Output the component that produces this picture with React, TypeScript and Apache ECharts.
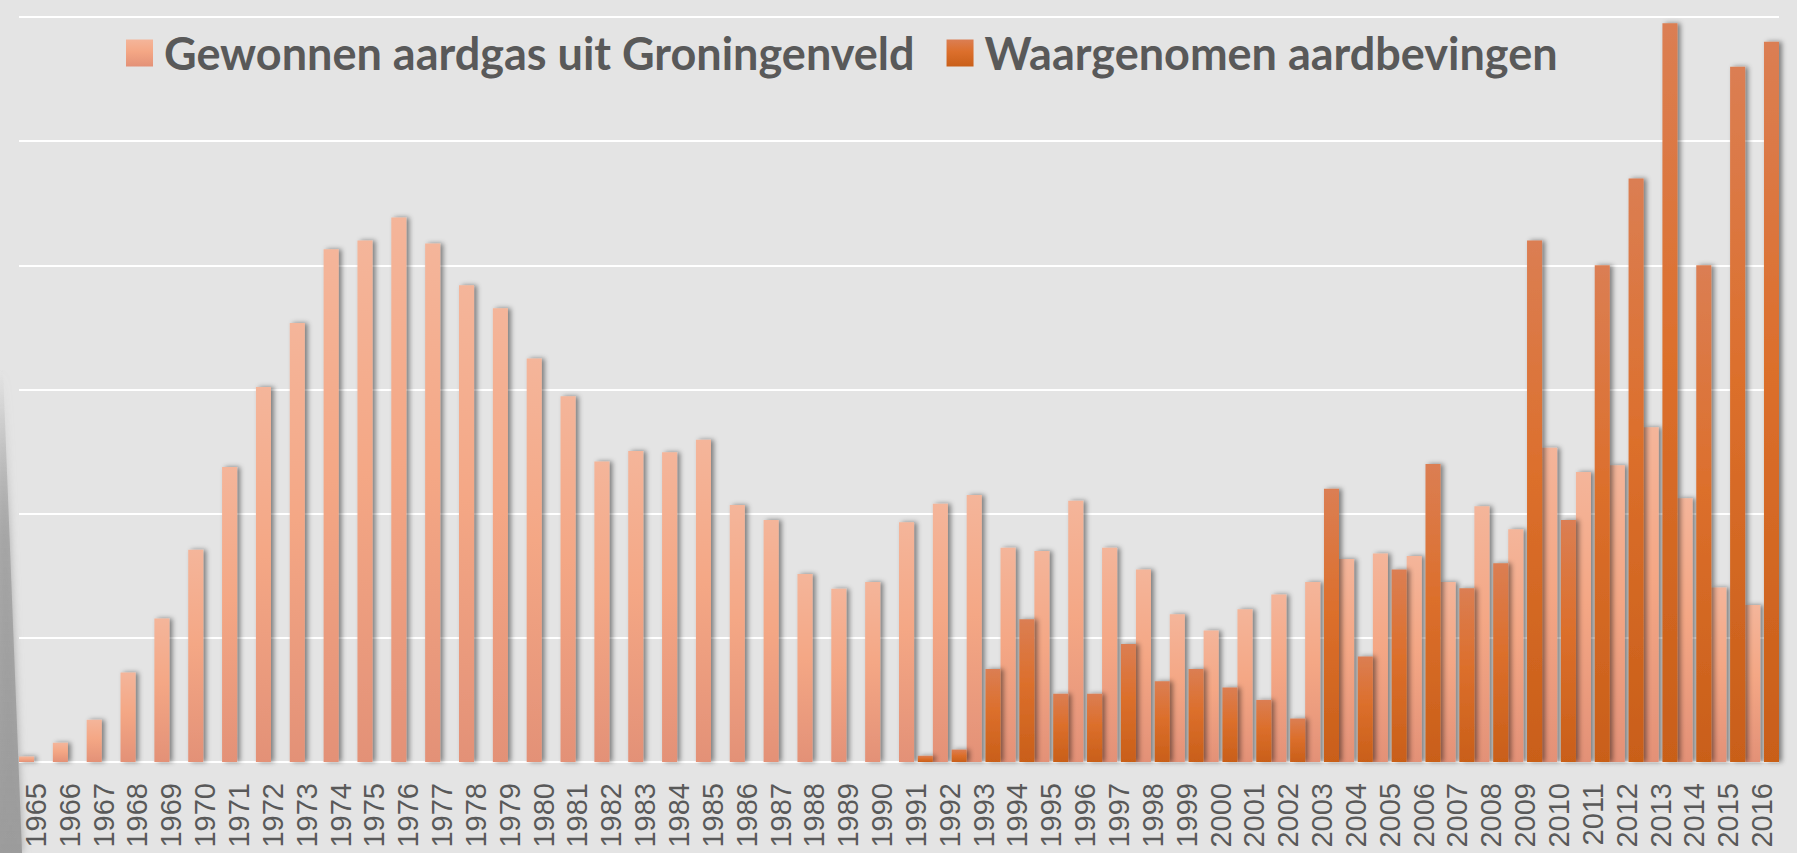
import React, { useEffect, useRef } from 'react';
import * as echarts from 'echarts';

const years = [
  '1965', '1966', '1967', '1968', '1969', '1970', '1971', '1972', '1973', '1974',
  '1975', '1976', '1977', '1978', '1979', '1980', '1981', '1982', '1983', '1984',
  '1985', '1986', '1987', '1988', '1989', '1990', '1991', '1992', '1993', '1994',
  '1995', '1996', '1997', '1998', '1999', '2000', '2001', '2002', '2003', '2004',
  '2005', '2006', '2007', '2008', '2009', '2010', '2011', '2012', '2013', '2014',
  '2015', '2016',
];

// Gewonnen aardgas uit Groningenveld (mrd m3)
const gasProduction = [
  0.9, 3.1, 6.8, 14.4, 23.1, 34.2, 47.5, 60.4, 70.7, 82.6,
  84.0, 87.7, 83.5, 76.8, 73.1, 65.0, 58.9, 48.4, 50.1, 49.9,
  51.9, 41.4, 39.0, 30.3, 27.9, 29.0, 38.6, 41.6, 43.0, 34.5,
  34.0, 42.1, 34.5, 31.0, 23.8, 21.2, 24.6, 27.0, 29.0, 32.7,
  33.6, 33.2, 29.0, 41.2, 37.5, 50.6, 46.7, 47.8, 53.9, 42.5,
  28.1, 25.3,
];

// Waargenomen aardbevingen (aantal)
const earthquakes = [
  0, 0, 0, 0, 0, 0, 0, 0, 0, 0,
  0, 0, 0, 0, 0, 0, 0, 0, 0, 0,
  0, 0, 0, 0, 0, 0, 1, 2, 15, 23,
  11, 11, 19, 13, 15, 12, 10, 7, 44, 17,
  31, 48, 28, 32, 84, 39, 80, 94, 119, 80,
  112, 116,
];

const seriesNames = ['Gewonnen aardgas uit Groningenveld', 'Waargenomen aardbevingen'];
const yMin = 0;
const yMax = 120;
const yInterval = 20;

export default function App() {
  const ref = useRef<HTMLDivElement>(null);

  useEffect(() => {
    document.body.style.margin = '0';
    document.body.style.background = '#E4E4E4';
    if (!ref.current) return;
    const chart = echarts.init(ref.current, undefined, { renderer: 'svg' });

    const gasGradient = new echarts.graphic.LinearGradient(0, 0, 0, 1, [
      { offset: 0, color: '#F4B59A' },
      { offset: 0.45, color: '#F4A785' },
      { offset: 1, color: '#E39177' },
    ]);
    const quakeGradient = new echarts.graphic.LinearGradient(0, 0, 0, 1, [
      { offset: 0, color: '#DB7E53' },
      { offset: 0.45, color: '#DC6F2C' },
      { offset: 1, color: '#C95F19' },
    ]);

    chart.setOption({
      animation: false,
      backgroundColor: '#E4E4E4',
      grid: { left: 19, right: 18, top: 17, bottom: 91, containLabel: false, outerBoundsMode: 'none' },
      legend: {
        data: seriesNames,
        left: 121,
        top: 24,
        itemWidth: 27,
        itemHeight: 27,
        itemGap: 32,
        icon: 'rect',
        textStyle: {
          fontFamily: 'Lato',
          fontWeight: 'bold',
          fontSize: 45,
          lineHeight: 48,
          color: '#595959',
          padding: [0, 0, 0, 6],
        },
      },
      xAxis: {
        type: 'category',
        data: years,
        axisTick: { show: false },
        axisLine: {
          show: true,
          lineStyle: {
            color: '#EEEEEE',
            width: 2,
            shadowColor: 'rgba(0,0,0,0.35)',
            shadowBlur: 3,
            shadowOffsetY: 2,
          },
        },
        axisLabel: {
          interval: 0,
          rotate: 90,
          margin: 21,
          fontFamily: "'Liberation Sans', Arial, sans-serif",
          fontSize: 29,
          color: '#595959',
        },
      },
      yAxis: {
        type: 'value',
        min: yMin,
        max: yMax,
        interval: yInterval,
        axisLabel: { show: false },
        axisLine: { show: false },
        axisTick: { show: false },
        splitLine: { lineStyle: { color: '#FFFFFF', width: 2 } },
      },
      series: [
        {
          name: seriesNames[0],
          type: 'bar',
          data: gasProduction,
          barCategoryGap: '0%',
          barGap: '25%',
          itemStyle: {
            color: gasGradient,
            shadowColor: 'rgba(0,0,0,0.45)',
            shadowBlur: 5,
            shadowOffsetX: 3,
          },
        },
        {
          name: seriesNames[1],
          type: 'bar',
          data: earthquakes,
          barCategoryGap: '0%',
          barGap: '25%',
          itemStyle: {
            color: quakeGradient,
            shadowColor: 'rgba(0,0,0,0.45)',
            shadowBlur: 5,
            shadowOffsetX: 3,
          },
        },
      ],
      graphic: [
        {
          type: 'polygon',
          z: -1,
          silent: true,
          shape: {
            points: [[0, 370], [3, 370], [14, 650], [22, 853], [0, 853]],
          },
          style: {
            fill: new echarts.graphic.LinearGradient(0, 0, 0, 1, [
              { offset: 0, color: 'rgba(160,160,160,0)' },
              { offset: 0.35, color: 'rgba(160,160,160,0.8)' },
              { offset: 1, color: '#9C9C9C' },
            ]),
            shadowBlur: 8,
            shadowColor: 'rgba(150,150,150,0.9)',
          },
        },
      ],
    });

    return () => chart.dispose();
  }, []);

  return <div ref={ref} style={{ width: 1797, height: 853 }} />;
}
